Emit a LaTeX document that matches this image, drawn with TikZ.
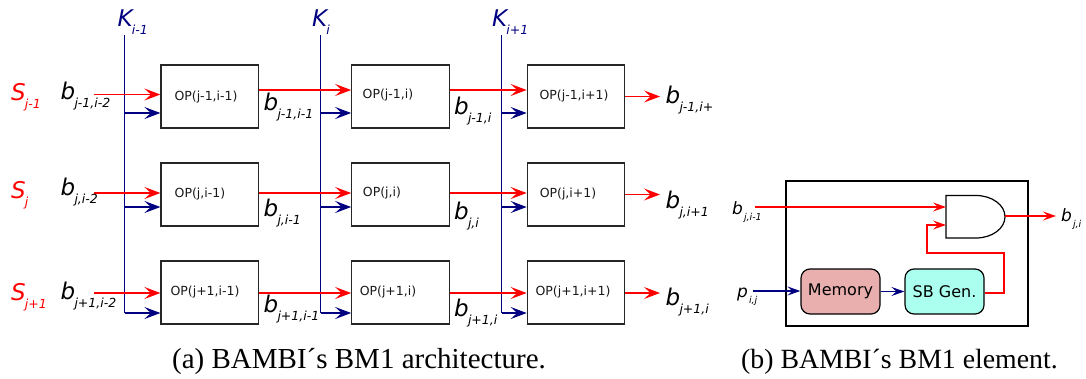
\documentclass[tikz,border=0pt]{standalone}
\usepackage{fontspec}
\setmainfont{Liberation Serif}
\newfontfamily\djv{DejaVu Sans}
\newfontfamily\djvo{DejaVu Sans Oblique}
\usetikzlibrary{arrows.meta,calc}
\definecolor{kblue}{RGB}{0,0,128}
\definecolor{memfill}{HTML}{E9AFAF}
\definecolor{sbfill}{HTML}{AAFFEE}
\newcommand{\lab}[3][black]{{\color{#1}\fontsize{23}{25}\selectfont\djvo #2\raisebox{-8pt}{\hspace{-0.8pt}\fontsize{12.5}{14}\selectfont #3}}}
\newcommand{\lbs}[2]{{\fontsize{17}{20}\selectfont\djvo #1\raisebox{-6pt}{\hspace{1pt}\fontsize{9.5}{11}\selectfont #2}}}
\tikzset{
  x=1pt,y=-1pt,
  opbox/.style={draw=black!85,line width=1.2pt,minimum width=97.5pt,minimum height=63pt,inner sep=0pt},
  optext/.style={font=\fontsize{12.5}{14}\selectfont\djv,inner sep=0pt,text=black!90},
  tl/.style={anchor=base west,inner sep=0pt},
  redar/.style={draw=red,line width=1.1pt,-{Stealth[length=16pt,width=12pt,inset=6.5pt]}},
  bluar/.style={draw=kblue,line width=1.1pt,-{Stealth[length=16pt,width=12pt,inset=6.5pt]}},
  redars/.style={draw=red,line width=1.4pt,-{Stealth[length=13pt,width=9pt,inset=5pt]}},
  bluars/.style={draw=kblue,line width=1.3pt,-{Stealth[length=13pt,width=9pt,inset=5pt]}},
  kline/.style={draw=kblue,line width=0.9pt},
  captext/.style={anchor=base west,inner sep=0pt},
  romb/.style={draw=black,line width=1.2pt,rounded corners=9pt,minimum width=79pt,minimum height=45pt,inner sep=0pt,font=\fontsize{16}{19}\selectfont\djv},
}
\begin{document}
\begin{tikzpicture}
\useasboundingbox (0,0) rectangle (1086,378);
% boxes
\foreach \c/\x in {a/209.75,b/400.5,c/576}{
  \foreach \r/\y in {p/96.5,q/194.5,r/292.5}{
    \node[opbox] (\c\r) at (\x,\y) {};
  }
}
% box texts
\node[optext] (tap) at (206,97) {OP(j-1,i-1)};
\node[optext] (tbp) at (388,95.5) {OP(j-1,i)};
\node[optext] (tcp) at (574,96) {OP(j-1,i+1)};
\node[optext] (taq) at (200,194) {OP(j,i-1)};
\node[optext] (tbq) at (382,193.5) {OP(j,i)};
\node[optext] (tcq) at (568,194) {OP(j,i+1)};
\node[optext] (tar) at (205,292.5) {OP(j+1,i-1)};
\node[optext] (tbr) at (388,292.5) {OP(j+1,i)};
\node[optext] (tcr) at (573,292.5) {OP(j+1,i+1)};
% K lines
\coordinate (k1t) at (124.5,35); \coordinate (k1b) at (124.5,313);
\coordinate (k2t) at (320.5,35); \coordinate (k2b) at (320.5,313);
\coordinate (k3t) at (501.5,35); \coordinate (k3b) at (501.5,313);
\draw[kline] (k1t) -- (k1b);
\draw[kline] (k2t) -- (k2b);
\draw[kline] (k3t) -- (k3b);
% blue arrows
\foreach \k/\c in {k1/a,k2/b,k3/c}{
  \coordinate (\k p) at ($(\k t)+(0,78)$);
  \coordinate (\k q) at ($(\k t)+(0,172)$);
  \draw[bluar] (\k p) -- (\k p -| \c p.west);
  \draw[bluar] (\k q) -- (\k q -| \c q.west);
  \draw[bluar] (\k b) -- (\k b -| \c r.west);
}
% red inputs
\coordinate (ip) at (94,94.5); \coordinate (iq) at (94,193); \coordinate (ir) at (94,293);
\draw[redar] (ip) -- (ip -| ap.west);
\draw[redar] (iq) -- (iq -| aq.west);
\draw[redar] (ir) -- (ir -| ar.west);
% red between boxes
\coordinate (y1) at (0,90); \coordinate (y2) at (0,193); \coordinate (y3) at (0,293);
\coordinate (y4) at (0,96.5); \coordinate (y5) at (0,194.5);
\coordinate (m1p) at (ap.east |- y1); \coordinate (m2p) at (bp.east |- y1);
\coordinate (m1q) at (aq.east |- y2); \coordinate (m2q) at (bq.east |- y2);
\coordinate (m1r) at (ar.east |- y3); \coordinate (m2r) at (br.east |- y3);
\draw[redar] (m1p) -- (m1p -| bp.west);
\draw[redar] (m2p) -- (m2p -| cp.west);
\draw[redar] (m1q) -- (m1q -| bq.west);
\draw[redar] (m2q) -- (m2q -| cq.west);
\draw[redar] (m1r) -- (m1r -| br.west);
\draw[redar] (m2r) -- (m2r -| cr.west);
% outputs
\coordinate (op) at (cp.east |- y4); \coordinate (oq) at (cq.east |- y5); \coordinate (or) at (cr.east |- y3);
\coordinate (oep) at (660,96.5); \coordinate (oeq) at (660,194.5); \coordinate (oer) at (660,293);
\draw[redar] (op) -- (oep);
\draw[redar] (oq) -- (oeq);
\draw[redar] (or) -- (oer);
% K and S labels
\node[tl] (lk1) at (117.5,26) {\lab[kblue]{K}{i-1}};
\node[tl] (lk2) at (312,26) {\lab[kblue]{K}{i}};
\node[tl] (lk3) at (492,26) {\lab[kblue]{K}{i+1}};
\node[tl] (ls1) at (11,100) {\lab[red]{S}{j-1}};
\node[tl] (ls2) at (11,198) {\lab[red]{S}{j}};
\node[tl] (ls3) at (11,300) {\lab[red]{S}{j+1}};
% b labels
\node[tl] (b11) at (60.5,99) {\lab{b}{j-1,i-2}};
\node[tl] (b12) at (263.5,110.5) {\lab{b}{j-1,i-1}};
\node[tl] (b13) at (454,114) {\lab{b}{j-1,i}};
\node[tl] (b14) at (665.5,103) {\lab{b}{j-1,i+}};
\node[tl] (b21) at (60.5,195) {\lab{b}{j,i-2}};
\node[tl] (b22) at (263.5,216) {\lab{b}{j,i-1}};
\node[tl] (b23) at (454,219) {\lab{b}{j,i}};
\node[tl] (b24) at (665.5,208) {\lab{b}{j,i+1}};
\node[tl] (b31) at (60.5,299) {\lab{b}{j+1,i-2}};
\node[tl] (b32) at (263.5,312) {\lab{b}{j+1,i-1}};
\node[tl] (b33) at (454,316) {\lab{b}{j+1,i}};
\node[tl] (b34) at (665.5,305) {\lab{b}{j+1,i}};
% element
\node[draw=black,line width=1.1pt,minimum width=242pt,minimum height=145pt,inner sep=0pt] (outer) at (907,253.5) {};
\node[romb,fill=memfill] (mem) at (840.5,291.5) {Memory};
\node[romb,fill=sbfill] (sb) at (944.5,291.5) {SB Gen.};
\coordinate (g1) at (946,195.5);
\coordinate (g2) at (946,238);
\coordinate (gout) at (1005,216);
\draw[line width=1.2pt,fill=white] (g1) -- (976,195.5) arc[start angle=-90,end angle=90,x radius=29,y radius=21.25] -- (g2) -- cycle;
\coordinate (bin) at (755,207);
\coordinate (bine) at (946,207);
\coordinate (g2in) at (946,225);
\coordinate (c1) at (1004,293);
\coordinate (c2) at (1004,253);
\coordinate (c3) at (927,253);
\coordinate (c4) at (927,225);
\coordinate (bend) at (1056,216);
\coordinate (pin) at (753,291);
\draw[redars] (bin) -- (bine);
\draw[redars] (sb.east |- c1) -- (c1) -- (c2) -- (c3) -- (c4) -- (g2in);
\draw[redars] (gout) -- (bend);
\draw[bluars] (pin) -- (pin -| mem.west);
\draw[bluars] (mem.east) -- (sb.west);
\node[tl] (e1) at (732,214) {\lbs{b}{j,i-1}};
\node[tl] (e2) at (1061,221) {\lbs{b}{j,i}};
\node[tl] (e3) at (737,297) {\lbs{p}{i,j}};
% captions
\node[captext,font=\fontsize{29}{32}\selectfont] (ca) at (172,368) {(a) BAMBI´s BM1 architecture.};
\node[captext,font=\fontsize{27.8}{31}\selectfont] (cb) at (741,368) {(b) BAMBI´s BM1 element.};
\end{tikzpicture}
\end{document}
